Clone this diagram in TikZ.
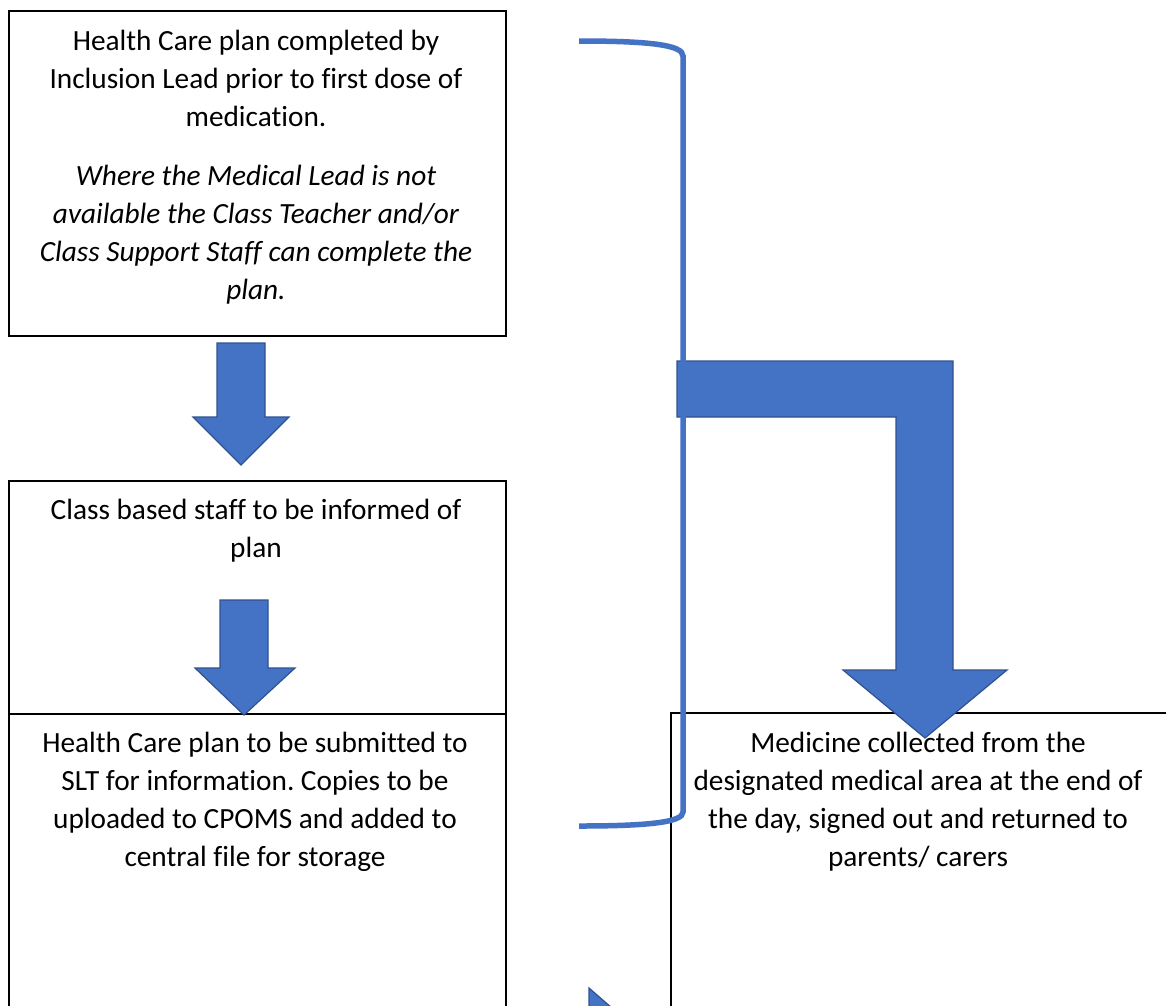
\documentclass[tikz,border=0pt]{standalone}
\usepackage{fontspec}
\setmainfont{Carlito}[Ligatures=NoCommon]
\frenchspacing
\definecolor{arrowfill}{HTML}{4472C4}
\definecolor{arrowedge}{HTML}{2F528F}
\tikzset{
  box/.style={draw=black, line width=1.5pt, fill=none, rectangle, inner sep=0pt, anchor=north west},
  blockarrow/.style={fill=arrowfill, draw=arrowedge, line width=1.2pt, line join=miter},
  bracketline/.style={draw=arrowfill, line width=5.5pt},
  label/.style={align=center, anchor=base, inner sep=0pt, font=\fontsize{29.3}{38}\selectfont}
}
\begin{document}
\begin{tikzpicture}[x=1pt,y=-1pt]
\useasboundingbox (0,0) rectangle (1166,1005);
\clip (0,0) rectangle (1166,1005);
\fill[white] (0,0) rectangle (1166,1005);

% boxes
\node[box, minimum width=497pt, minimum height=325pt] (b1) at (8,10) {};
\node[box, minimum width=497pt, minimum height=233pt] (b2) at (8,480) {};
\node[box, minimum width=497pt, minimum height=310pt] (b3) at (8,713) {};
\node[box, minimum width=510pt, minimum height=310pt] (b4) at (670,712) {};

% small down arrows
\path[blockarrow] (217,343) -- (265,343) -- (265,417) -- (289,417) -- (241,465) -- (193,417) -- (217,417) -- cycle;
\path[blockarrow] (220,600) -- (268,600) -- (268,668) -- (295,668) -- (244,715) -- (195,668) -- (220,668) -- cycle;

% big bent arrow
\path[blockarrow] (677,361) -- (953,361) -- (953,670) -- (1007,670) -- (925,738) -- (843,670) -- (896,670) -- (896,417) -- (677,417) -- cycle;

% small partial arrow at bottom
\path[blockarrow] (589,988) -- (612,1008) -- (589,1008) -- cycle;

% right bracket
\coordinate (brTop) at (579,41);
\coordinate (brTopC) at (683,56);
\coordinate (brBotC) at (683,812);
\coordinate (brBot) at (579,826);
\draw[bracketline] (brTop) .. controls (650,41) and (683,45) .. (brTopC) -- (brBotC) .. controls (683,822) and (650,826) .. (brBot);

% texts (anchor base = baseline of the last line)
\node[label] (t1) at (256,299) {Health Care plan completed by\\Inclusion Lead prior to first dose of\\medication.\\[21pt]
\itshape Where the Medical Lead is not\\\itshape available the Class Teacher and/or\\\itshape Class Support Staff can complete the\\\itshape plan.};
\node[label] (t2) at (256,557) {Class based staff to be informed of\\plan};
\node[label] (t3) at (255,866) {Health Care plan to be submitted to\\SLT for information. Copies to be\\uploaded to CPOMS and added to\\central file for storage};
\node[label] (t4) at (918,866) {Medicine collected from the\\designated medical area at the end of\\the day, signed out and returned to\\parents/ carers};
\end{tikzpicture}
\end{document}
